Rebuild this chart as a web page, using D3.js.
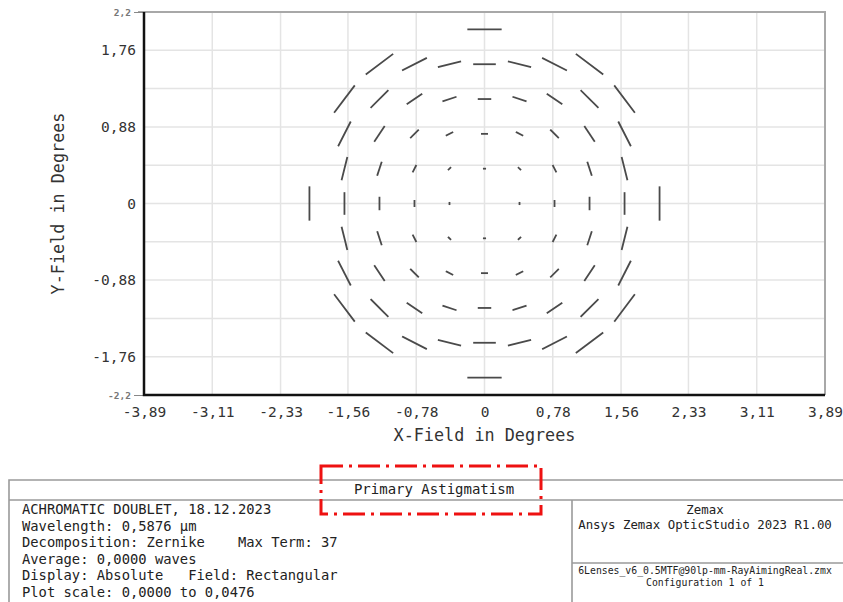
<!DOCTYPE html>
<html>
<head>
<meta charset="utf-8">
<script src="https://cdn.jsdelivr.net/npm/d3@7"></script>
<style>
  body { margin: 0; background: #fff; }
  text { font-family: 'DejaVu Sans Mono', monospace; }
</style>
</head>
<body>
<div class="chart"></div>
<script>
// axis ticks and grid
const xTickValues = [-3.89, -3.11, -2.33, -1.56, -0.78, 0, 0.78, 1.56, 2.33, 3.11, 3.89];
const xTickLabels = ['-3,89', '-3,11', '-2,33', '-1,56', '-0,78', '0', '0,78', '1,56', '2,33', '3,11', '3,89'];
const yGridValues = [2.2, 1.76, 1.32, 0.88, 0.44, 0, -0.44, -0.88, -1.32, -1.76, -2.2];
const yTickValues = [1.76, 0.88, 0, -0.88, -1.76];
const yTickLabels = ['1,76', '0,88', '0', '-0,88', '-1,76'];
const yEndValues = [2.2, -2.2];
const yEndLabels = ['2,2', '-2,2'];

// field points (degrees)
const fieldX = [-2, -1.6, -1.2, -0.8, -0.4, 0, 0.4, 0.8, 1.2, 1.6, 2];
const fieldY = [2, 1.6, 1.2, 0.8, 0.4, 0, -0.4, -0.8, -1.2, -1.6, -2];

// primary astigmatism magnitude (waves), row = fieldY, col = fieldX
const magnitude = [
  [null, null, null, null, null, 0.0476, null, null, null, null, null],
  [null, null, 0.0476, 0.0381, 0.0324, 0.0305, 0.0324, 0.0381, 0.0476, null, null],
  [null, 0.0476, 0.0343, 0.0248, 0.019, 0.0171, 0.019, 0.0248, 0.0343, 0.0476, null],
  [null, 0.0381, 0.0248, 0.0152, 0.0095, 0.0076, 0.0095, 0.0152, 0.0248, 0.0381, null],
  [null, 0.0324, 0.019, 0.0095, 0.0038, 0.0019, 0.0038, 0.0095, 0.019, 0.0324, null],
  [0.0476, 0.0305, 0.0171, 0.0076, 0.0019, 0, 0.0019, 0.0076, 0.0171, 0.0305, 0.0476],
  [null, 0.0324, 0.019, 0.0095, 0.0038, 0.0019, 0.0038, 0.0095, 0.019, 0.0324, null],
  [null, 0.0381, 0.0248, 0.0152, 0.0095, 0.0076, 0.0095, 0.0152, 0.0248, 0.0381, null],
  [null, 0.0476, 0.0343, 0.0248, 0.019, 0.0171, 0.019, 0.0248, 0.0343, 0.0476, null],
  [null, null, 0.0476, 0.0381, 0.0324, 0.0305, 0.0324, 0.0381, 0.0476, null, null],
  [null, null, null, null, null, 0.0476, null, null, null, null, null]
];

// orientation of the astigmatism axis (degrees, ccw from +x)
const angle = [
  [null, null, null, null, null, 0, null, null, null, null, null],
  [null, null, 37, 27, 14, 0, -14, -27, -37, null, null],
  [null, 53, 45, 34, 18, 0, -18, -34, -45, -53, null],
  [null, 63, 56, 45, 27, 0, -27, -45, -56, -63, null],
  [null, 76, 72, 63, 45, 0, -45, -63, -72, -76, null],
  [90, 90, 90, 90, 90, 0, 90, 90, 90, 90, 90],
  [null, -76, -72, -63, -45, 0, 45, 63, 72, 76, null],
  [null, -63, -56, -45, -27, 0, 27, 45, 56, 63, null],
  [null, -53, -45, -34, -18, 0, 18, 34, 45, 53, null],
  [null, null, -37, -27, -14, 0, 14, 27, 37, null, null],
  [null, null, null, null, null, 0, null, null, null, null, null]
];

const plotScale = [0, 0.0476];

const infoLines = [
  'ACHROMATIC DOUBLET, 18.12.2023',
  'Wavelength: 0,5876 µm',
  'Decomposition: Zernike    Max Term: 37',
  'Average: 0,0000 waves',
  'Display: Absolute   Field: Rectangular',
  'Plot scale: 0,0000 to 0,0476'
];
const plotTitle = 'Primary Astigmatism';
const brandLines = ['Zemax', 'Ansys Zemax OpticStudio 2023 R1.00'];
const fileLines = ['6Lenses_v6_0.5MTF@90lp-mm-RayAimingReal.zmx', 'Configuration 1 of 1'];

const width = 843,
  height = 602,
  plot = { left: 144, right: 825, top: 12, bottom: 395 };

const svg = d3
  .select('.chart')
  .append('svg')
  .attr('width', width)
  .attr('height', height);

const x = d3.scaleLinear().domain([-3.89, 3.89]).range([plot.left, plot.right]);
const y = d3.scaleLinear().domain([-2.2, 2.2]).range([plot.bottom, plot.top]);
const len = d3.scaleLinear().domain(plotScale).range([0, 32.5]);

// grid
const grid = svg.append('g').attr('stroke', '#e4e4e4').attr('stroke-width', 1.5);
grid
  .selectAll('.gx')
  .data(xTickValues)
  .enter()
  .append('line')
  .attr('x1', d => x(d))
  .attr('x2', d => x(d))
  .attr('y1', plot.top)
  .attr('y2', plot.bottom);
grid
  .selectAll('.gy')
  .data(yGridValues)
  .enter()
  .append('line')
  .attr('x1', plot.left)
  .attr('x2', plot.right)
  .attr('y1', d => y(d))
  .attr('y2', d => y(d));

// frame: light top/right, dark left/bottom
svg
  .append('path')
  .attr('d', `M${plot.left - 6},${plot.top}H${plot.right}V${plot.bottom}`)
  .attr('fill', 'none')
  .attr('stroke', '#a8a8a8')
  .attr('stroke-width', 2);

// field map marks
const points = [];
fieldY.forEach((fy, r) => {
  fieldX.forEach((fx, c) => {
    if (magnitude[r][c] != null && magnitude[r][c] > 0) {
      points.push({ fx, fy, m: magnitude[r][c], a: angle[r][c] });
    }
  });
});

svg
  .append('g')
  .selectAll('line')
  .data(points)
  .enter()
  .append('line')
  .attr('x1', d => x(d.fx) - (len(d.m) / 2) * Math.cos((d.a * Math.PI) / 180))
  .attr('x2', d => x(d.fx) + (len(d.m) / 2) * Math.cos((d.a * Math.PI) / 180))
  .attr('y1', d => y(d.fy) + (len(d.m) / 2) * Math.sin((d.a * Math.PI) / 180))
  .attr('y2', d => y(d.fy) - (len(d.m) / 2) * Math.sin((d.a * Math.PI) / 180))
  .attr('stroke', '#4a4a4a')
  .attr('stroke-width', 1.8)
  .attr('stroke-linecap', 'square');

// axes
const xAxis = svg
  .append('g')
  .attr('transform', `translate(0,${plot.bottom})`)
  .call(
    d3
      .axisBottom(x)
      .tickValues(xTickValues)
      .tickFormat((d, i) => xTickLabels[i])
      .tickSize(0)
      .tickPadding(12)
  );
xAxis.select('.domain').remove();
xAxis
  .selectAll('text')
  .attr('font-family', 'DejaVu Sans Mono')
  .attr('font-size', 14.5)
  .attr('fill', '#333');

const yAxis = svg
  .append('g')
  .attr('transform', `translate(${plot.left},0)`)
  .call(
    d3
      .axisLeft(y)
      .tickValues(yTickValues)
      .tickFormat((d, i) => yTickLabels[i])
      .tickSize(0)
      .tickPadding(8)
  );
yAxis.select('.domain').remove();
yAxis
  .selectAll('text')
  .attr('font-family', 'DejaVu Sans Mono')
  .attr('font-size', 14.5)
  .attr('fill', '#333');

// small end labels 2,2 / -2,2
const yEnds = svg
  .append('g')
  .attr('transform', `translate(${plot.left},0)`)
  .call(
    d3
      .axisLeft(y)
      .tickValues(yEndValues)
      .tickFormat((d, i) => yEndLabels[i])
      .tickSize(10)
      .tickPadding(3)
  );
yEnds.select('.domain').remove();
yEnds.selectAll('line').attr('stroke', '#888').attr('stroke-width', 1);
yEnds
  .selectAll('text')
  .attr('font-family', 'DejaVu Sans Mono')
  .attr('font-size', 9.5)
  .attr('font-weight', 'bold')
  .attr('fill', '#777');

svg
  .append('path')
  .attr('d', `M${plot.left},${plot.top}V${plot.bottom}H${plot.right}`)
  .attr('fill', 'none')
  .attr('stroke', '#111')
  .attr('stroke-width', 2.5);

// axis titles
svg
  .append('text')
  .attr('x', x(0))
  .attr('y', 441)
  .attr('text-anchor', 'middle')
  .attr('font-size', 16.8)
  .attr('fill', '#333')
  .text('X-Field in Degrees');

svg
  .append('text')
  .attr('transform', `translate(64,${y(0)}) rotate(-90)`)
  .attr('text-anchor', 'middle')
  .attr('font-size', 16.8)
  .attr('fill', '#333')
  .text('Y-Field in Degrees');

// info box
const box = svg.append('g').attr('stroke', '#9a9a9a').attr('stroke-width', 1.6).attr('fill', 'none');
box.append('path').attr('d', `M${width},480H9V${height}`);
box.append('path').attr('d', `M9,500H${width}`);
box.append('path').attr('d', `M572,500V${height}`);
box.append('path').attr('d', `M572,563H${width}`);

svg
  .append('text')
  .attr('x', 434)
  .attr('y', 494)
  .attr('text-anchor', 'middle')
  .attr('font-size', 14)
  .attr('fill', '#222')
  .text(plotTitle);

svg
  .append('g')
  .selectAll('text')
  .data(infoLines)
  .enter()
  .append('text')
  .attr('x', 22)
  .attr('y', (d, i) => 514 + i * 16.5)
  .attr('font-size', 13.8)
  .attr('fill', '#222')
  .attr('xml:space', 'preserve')
  .style('white-space', 'pre')
  .text(d => d);

svg
  .append('g')
  .selectAll('text')
  .data(brandLines)
  .enter()
  .append('text')
  .attr('x', 705)
  .attr('y', (d, i) => 514 + i * 14.5)
  .attr('text-anchor', 'middle')
  .attr('font-size', 12.4)
  .attr('fill', '#222')
  .text(d => d);

svg
  .append('g')
  .selectAll('text')
  .data(fileLines)
  .enter()
  .append('text')
  .attr('x', 705)
  .attr('y', (d, i) => 574 + i * 11.5)
  .attr('text-anchor', 'middle')
  .attr('font-size', 9.8)
  .attr('fill', '#222')
  .text(d => d);

// red dash-dot highlight around the title
svg
  .append('rect')
  .attr('x', 321)
  .attr('y', 466)
  .attr('width', 220)
  .attr('height', 48)
  .attr('fill', 'none')
  .attr('stroke', '#ee1111')
  .attr('stroke-width', 3)
  .attr('stroke-dasharray', '22,6,3,6');
</script>
</body>
</html>
